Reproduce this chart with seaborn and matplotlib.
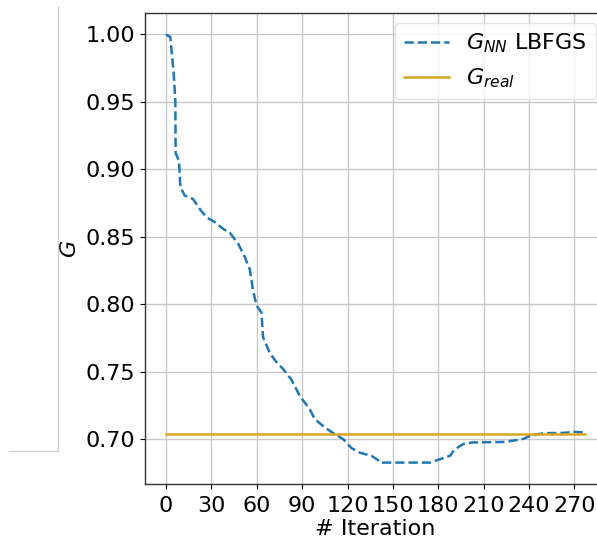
import numpy as np
import pandas as pd
import matplotlib
matplotlib.use("Agg")
import matplotlib.pyplot as plt
from matplotlib.lines import Line2D
import seaborn as sns

# LBFGS optimisation history of G (iteration, value)
iterations = [0, 2.9, 5.1, 6.2, 6.4, 8.6, 9.5, 12.4, 17.9, 22.3, 26.7, 32.2, 37.7,
              42.2, 47.7, 52.1, 55.4, 57.6, 59.9, 63.1, 64.2, 68.6, 73.1, 77.5, 83,
              88.5, 95, 98.3, 105, 111.6, 117.2, 122.7, 128.2, 135.9, 140.3, 141.4,
              174.5, 181, 187.7, 191, 196.5, 202, 223, 229.6, 236.3, 240.7, 249.5,
              262.7, 269.3, 277]
g_nn = [1.000, 0.998, 0.971, 0.951, 0.912, 0.9065, 0.887, 0.8806, 0.878, 0.8707,
        0.8645, 0.861, 0.856, 0.853, 0.845, 0.835, 0.826, 0.810, 0.799, 0.794,
        0.7755, 0.764, 0.757, 0.752, 0.744, 0.732, 0.7223, 0.715, 0.7087, 0.7038,
        0.700, 0.6934, 0.690, 0.6877, 0.6845, 0.6827, 0.6827, 0.6852, 0.6877,
        0.6926, 0.6964, 0.6976, 0.698, 0.699, 0.7003, 0.7025, 0.7045, 0.7047,
        0.7055, 0.705]

# Reference value of G
g_real = 0.7042
real_span = [0, 277]

x_ticks = [0, 30, 60, 90, 120, 150, 180, 210, 240, 270]
y_ticks = [0.70, 0.75, 0.80, 0.85, 0.90, 0.95, 1.00]

plt.rcParams["font.family"] = ["DejaVu Sans"]
plt.rcParams["mathtext.fontset"] = "dejavusans"
FS = 16

fig = plt.figure(figsize=(5.97, 5.38), dpi=100)
ax = fig.add_axes([145 / 597, 54 / 538, 461 / 597, 471 / 538])

df_nn = pd.DataFrame({"Iteration": iterations, "G": g_nn})
df_real = pd.DataFrame({"Iteration": real_span, "G": [g_real, g_real]})

sns.lineplot(data=df_nn, x="Iteration", y="G", ax=ax, color="#1f77b4",
             linestyle="--", linewidth=1.8, label=r"$G_{NN}$ LBFGS")
sns.lineplot(data=df_real, x="Iteration", y="G", ax=ax, color="#DAA520",
             linewidth=1.8, label=r"$G_{real}$")

ax.set_xticks(x_ticks)
ax.set_yticks(y_ticks)
ax.set_xticklabels([str(t) for t in x_ticks])
ax.set_yticklabels([f"{t:.2f}" for t in y_ticks])
ax.tick_params(labelsize=FS)
ax.tick_params(axis="x", pad=5.5)
ax.set_xlabel("# Iteration", fontsize=FS, labelpad=2)
ax.set_ylabel(r"$G$", fontsize=FS)
ax.grid(True, color="#c8c8c8", linewidth=1.0)
ax.set_axisbelow(True)
for s in ax.spines.values():
    s.set_color("#333333")
    s.set_linewidth(1.0)

ax.margins(x=0.05, y=0.05)
ax.legend(loc="upper right", fontsize=FS, framealpha=0.8, edgecolor="#dddddd",
          handlelength=2.0, borderaxespad=0.45)

# Thin separator lines on the left side of the canvas
fig.add_artist(Line2D([58 / 597, 58 / 597], [1 - 7 / 538, 1 - 451 / 538],
                      transform=fig.transFigure, color="#d0d0d0", linewidth=1.0))
fig.add_artist(Line2D([9 / 597, 58 / 597], [1 - 451 / 538, 1 - 451 / 538],
                      transform=fig.transFigure, color="#d0d0d0", linewidth=1.0))

fig.savefig("out.png", dpi=100)
